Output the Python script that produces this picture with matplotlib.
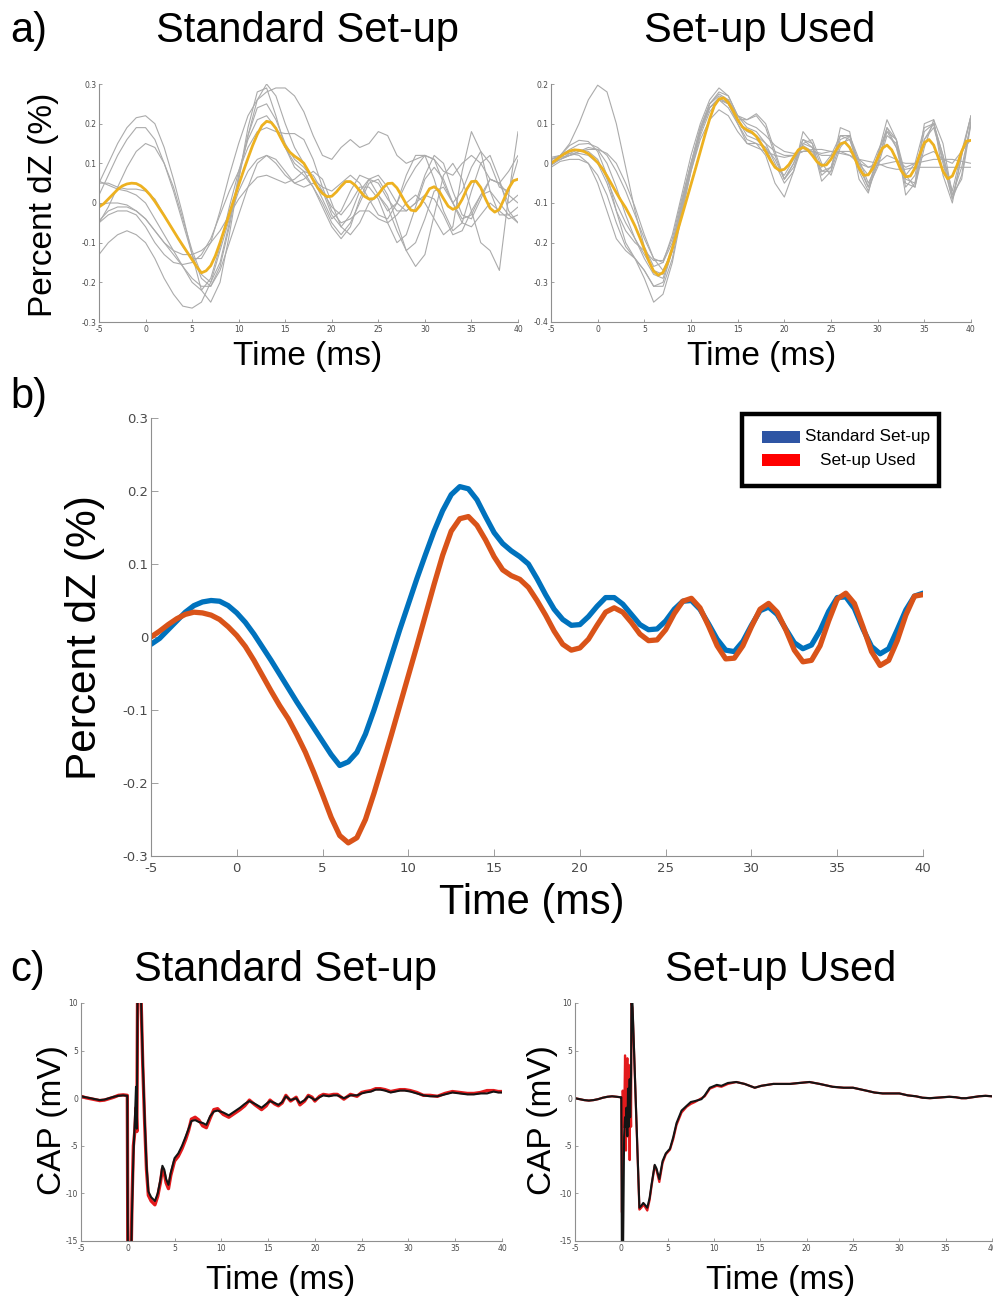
import numpy as np
import matplotlib
matplotlib.use("Agg")
import matplotlib.pyplot as plt
from matplotlib.patches import Rectangle

plt.rcParams["axes.unicode_minus"] = False

W, H = 993, 1299
LABEL_FONT = "Liberation Sans"
TICK_FONT = "DejaVu Sans"

# ---------------- data: percent dZ (panels a and b) ----------------
# mean traces, sampled every 0.5 ms from -5 to 40 ms
t_mean = np.arange(-5, 40.01, 0.5)
dz_standard = [
    -0.010, -0.002, 0.010, 0.022, 0.034, 0.043, 0.048, 0.050, 0.049, 0.043,
    0.033, 0.020, 0.004, -0.014, -0.032, -0.051, -0.070, -0.089, -0.107, -0.125,
    -0.143, -0.161, -0.176, -0.171, -0.158, -0.133, -0.100, -0.064, -0.027, 0.010,
    0.045, 0.080, 0.113, 0.145, 0.173, 0.195, 0.206, 0.203, 0.188, 0.165,
    0.143, 0.128, 0.118, 0.110, 0.100, 0.080, 0.058, 0.038, 0.024, 0.016,
    0.017, 0.028, 0.042, 0.054, 0.054, 0.045, 0.031, 0.017, 0.010, 0.011,
    0.022, 0.038, 0.049, 0.050, 0.038, 0.018, -0.003, -0.018, -0.020, -0.006,
    0.016, 0.036, 0.041, 0.031, 0.011, -0.008, -0.016, -0.011, 0.009, 0.035,
    0.054, 0.055, 0.039, 0.011, -0.013, -0.023, -0.016, 0.010, 0.037, 0.056,
    0.060,
]
dz_used = [
    0.000, 0.008, 0.017, 0.025, 0.031, 0.034, 0.033, 0.030, 0.024, 0.014,
    0.002, -0.013, -0.032, -0.053, -0.074, -0.094, -0.112, -0.134, -0.158, -0.186,
    -0.216, -0.247, -0.272, -0.282, -0.275, -0.250, -0.214, -0.175, -0.135, -0.094,
    -0.053, -0.012, 0.030, 0.072, 0.112, 0.145, 0.162, 0.165, 0.153, 0.133,
    0.110, 0.092, 0.084, 0.079, 0.068, 0.050, 0.030, 0.008, -0.010, -0.018,
    -0.015, -0.003, 0.016, 0.034, 0.040, 0.034, 0.020, 0.004, -0.005, -0.004,
    0.010, 0.032, 0.049, 0.053, 0.040, 0.015, -0.012, -0.030, -0.029, -0.012,
    0.014, 0.038, 0.046, 0.034, 0.010, -0.018, -0.034, -0.032, -0.012, 0.022,
    0.052, 0.060, 0.046, 0.014, -0.020, -0.039, -0.032, -0.005, 0.030, 0.056,
    0.058,
]

# individual recordings, sampled every 1 ms from -5 to 40 ms
t_single = np.arange(-5, 40.01, 1.0)
singles_standard = [
    [0.05, 0.10, 0.15, 0.19, 0.215, 0.22,
     0.20, 0.14, 0.06, -0.03, -0.13, -0.22, -0.25, -0.20, -0.08, 0.06,
     0.19, 0.28, 0.29, 0.22, 0.14, 0.09, 0.07, 0.04, 0.0, -0.05,
     -0.08, -0.05, 0.0, 0.05, 0.06, 0.02, -0.05, -0.12, -0.16, -0.13,
     -0.03, 0.07, 0.10, 0.06, -0.02, -0.10, -0.12, -0.17, 0.02, 0.18],
    [0.02, 0.07, 0.12, 0.16, 0.19, 0.19,
     0.16, 0.10, 0.03, -0.05, -0.13, -0.19, -0.21, -0.16, -0.06, 0.06,
     0.17, 0.26, 0.30, 0.27, 0.20, 0.14, 0.10, 0.06, 0.04, 0.03,
     0.05, 0.07, 0.05, 0.01, -0.03, -0.04, 0.0, 0.07, 0.12, 0.12,
     0.06, -0.02, -0.07, -0.05, 0.03, 0.10, 0.12, 0.06, -0.02, -0.05],
    [-0.05, -0.01, 0.04, 0.09, 0.13, 0.15,
     0.14, 0.10, 0.04, -0.04, -0.12, -0.18, -0.20, -0.15, -0.05, 0.07,
     0.17, 0.24, 0.25, 0.21, 0.15, 0.11, 0.09, 0.06, 0.01, -0.04,
     -0.02, 0.03, 0.07, 0.06, 0.02, -0.02, 0.0, 0.05, 0.09, 0.12,
     0.11, 0.05, 0.0, 0.03, 0.09, 0.13, 0.10, 0.04, 0.03, 0.11],
    [-0.13, -0.10, -0.08, -0.07, -0.08, -0.10,
     -0.14, -0.19, -0.23, -0.26, -0.265, -0.25, -0.20, -0.12, -0.04, 0.03,
     0.08, 0.11, 0.12, 0.10, 0.07, 0.05, 0.06, 0.08, 0.06, 0.0,
     -0.06, -0.08, -0.05, 0.0, 0.02, -0.01, -0.07, -0.12, -0.10, -0.04,
     0.03, 0.04, 0.0, -0.05, -0.06, -0.03, 0.0, -0.02, -0.04, -0.03],
    [0.05, 0.05, 0.04, 0.035, 0.035, 0.03,
     0.01, -0.03, -0.07, -0.11, -0.14, -0.14, -0.10, -0.02, 0.07, 0.15,
     0.22, 0.26, 0.28, 0.29, 0.29, 0.27, 0.23, 0.17, 0.12, 0.11,
     0.14, 0.16, 0.14, 0.15, 0.18, 0.17, 0.12, 0.10, 0.11, 0.12,
     0.11, 0.08, 0.07, 0.10, 0.12, 0.10, 0.06, 0.05, 0.08, 0.12],
    [-0.05, -0.03, -0.02, -0.02, -0.03, -0.06,
     -0.10, -0.13, -0.15, -0.155, -0.15, -0.13, -0.09, -0.03, 0.03, 0.08,
     0.14, 0.18, 0.19, 0.18, 0.175, 0.175, 0.16, 0.11, 0.04, -0.02,
     -0.05, -0.04, -0.02, -0.02, -0.04, -0.05, -0.03, 0.0, 0.02, 0.0,
     -0.04, -0.08, -0.06, 0.08, 0.18, 0.13, 0.03, -0.03, -0.03, -0.01],
    [0.055, 0.045, 0.035, 0.03, 0.02, 0.0,
     -0.04, -0.08, -0.12, -0.16, -0.20, -0.22, -0.19, -0.11, -0.01, 0.08,
     0.16, 0.21, 0.22, 0.19, 0.14, 0.10, 0.08, 0.04, -0.01, -0.06,
     -0.09, -0.06, 0.01, 0.06, 0.07, 0.04, 0.0, -0.02, 0.0, 0.07,
     0.12, 0.10, 0.03, -0.03, -0.04, 0.01, 0.06, 0.05, 0.0, 0.02],
    [-0.045, -0.02, -0.01, -0.01, -0.02, -0.04,
     -0.07, -0.10, -0.12, -0.13, -0.13, -0.12, -0.10, -0.07, -0.03, 0.01,
     0.04, 0.065, 0.07, 0.06, 0.05, 0.06, 0.08, 0.07, 0.03, -0.03,
     -0.06, -0.03, 0.03, 0.06, 0.05, 0.01, -0.02, -0.02, 0.0, 0.02,
     0.01, -0.03, -0.08, -0.07, -0.02, 0.02, 0.03, 0.0, -0.03, -0.05],
    [-0.005, 0.0, 0.0, -0.005, -0.02, -0.04,
     -0.07, -0.10, -0.13, -0.16, -0.19, -0.21, -0.21, -0.17, -0.10, -0.03,
     0.04, 0.10, 0.12, 0.11, 0.08, 0.05, 0.04, 0.05, 0.03, -0.01,
     -0.03, 0.0, 0.04, 0.04, 0.01, -0.05, -0.10, -0.08, -0.01, 0.06,
     0.09, 0.06, 0.0, -0.04, -0.03, 0.02, 0.06, 0.05, 0.02, 0.0],
]
singles_used = [
    [0.01, 0.02, 0.05, 0.10, 0.16, 0.197,
     0.18, 0.10, -0.01, -0.12, -0.21, -0.26, -0.25, -0.18, -0.08, 0.02,
     0.10, 0.16, 0.19, 0.17, 0.12, 0.11, 0.12, 0.09, 0.02, -0.04,
     0.0, 0.06, 0.05, -0.01, 0.02, 0.07, 0.06, 0.0, -0.03, 0.03,
     0.08, 0.04, -0.03, 0.0, 0.09, 0.10, 0.02, -0.07, 0.03, 0.12],
    [-0.01, 0.005, 0.01, 0.01, 0.0, -0.03,
     -0.08, -0.15, -0.21, -0.24, -0.29, -0.35, -0.33, -0.25, -0.13, -0.02,
     0.06, 0.11, 0.135, 0.12, 0.08, 0.05, 0.05, 0.04, 0.01, -0.04,
     -0.01, 0.05, 0.04, -0.02, -0.02, 0.05, 0.06, -0.01, -0.06, 0.02,
     0.09, 0.04, -0.06, -0.03, 0.08, 0.10, 0.0, -0.09, 0.02, 0.12],
    [0.0, 0.02, 0.045, 0.058, 0.055, 0.03,
     -0.03, -0.12, -0.20, -0.24, -0.27, -0.31, -0.30, -0.22, -0.11, -0.01,
     0.08, 0.15, 0.18, 0.17, 0.12, 0.09, 0.08, 0.05, 0.0, -0.05,
     -0.02, 0.05, 0.06, 0.0, -0.03, 0.04, 0.07, 0.01, -0.05, 0.0,
     0.08, 0.06, -0.03, -0.06, 0.04, 0.11, 0.05, -0.08, -0.04, 0.10],
    [0.01, 0.02, 0.035, 0.048, 0.05, 0.04,
     0.02, -0.02, -0.07, -0.13, -0.19, -0.24, -0.25, -0.20, -0.10, 0.0,
     0.09, 0.15, 0.17, 0.16, 0.12, 0.10, 0.09, 0.07, 0.045, 0.03,
     0.025, 0.03, 0.03, 0.025, 0.03, 0.03, 0.02, 0.0, -0.01, -0.005,
     0.0, 0.005, 0.0, 0.0, 0.005, 0.01, 0.01, 0.01, 0.005, 0.0],
    [0.005, 0.01, 0.02, 0.03, 0.035, 0.035,
     0.025, 0.0, -0.05, -0.11, -0.18, -0.24, -0.27, -0.22, -0.12, -0.02,
     0.07, 0.13, 0.16, 0.15, 0.11, 0.08, 0.07, 0.05, 0.03, 0.02,
     0.02, 0.03, 0.035, 0.035, 0.03, 0.025, 0.02, 0.01, 0.005, 0.0,
     -0.01, -0.015, -0.015, -0.01, -0.01, -0.01, -0.01, -0.01, -0.01, -0.01],
    [-0.005, 0.01, 0.025, 0.035, 0.03, 0.01,
     -0.04, -0.10, -0.15, -0.19, -0.23, -0.27, -0.28, -0.21, -0.10, 0.0,
     0.09, 0.15, 0.175, 0.16, 0.11, 0.07, 0.06, 0.04, -0.01, -0.03,
     0.01, 0.045, 0.03, -0.02, -0.01, 0.06, 0.07, 0.0, -0.06, -0.01,
     0.07, 0.05, -0.04, -0.05, 0.06, 0.09, 0.01, -0.09, -0.03, 0.11],
    [0.015, 0.02, 0.025, 0.02, 0.0, -0.05,
     -0.12, -0.19, -0.22, -0.24, -0.27, -0.31, -0.31, -0.24, -0.12, -0.01,
     0.08, 0.14, 0.165, 0.15, 0.10, 0.06, 0.05, 0.02, -0.05, -0.085,
     -0.02, 0.08, 0.05, -0.045, -0.02, 0.09, 0.08, -0.04, -0.075, 0.02,
     0.11, 0.06, -0.08, -0.05, 0.10, 0.11, -0.03, -0.10, 0.02, 0.12],
    [0.0, 0.01, 0.02, 0.025, 0.02, 0.0,
     -0.05, -0.12, -0.17, -0.20, -0.22, -0.245, -0.245, -0.19, -0.09, 0.0,
     0.08, 0.14, 0.16, 0.14, 0.10, 0.05, 0.04, 0.03, 0.02, 0.015,
     0.02, 0.03, 0.03, 0.02, 0.02, 0.03, 0.03, 0.01, -0.01, 0.0,
     0.02, 0.01, -0.01, 0.0, 0.02, 0.03, 0.01, 0.0, 0.03, 0.06],
    [0.01, 0.015, 0.02, 0.03, 0.04, 0.035,
     0.0, -0.06, -0.13, -0.19, -0.24, -0.28, -0.29, -0.22, -0.11, -0.01,
     0.08, 0.14, 0.165, 0.15, 0.11, 0.11, 0.125, 0.10, 0.03, -0.04,
     0.0, 0.06, 0.04, -0.03, -0.01, 0.07, 0.07, -0.02, -0.07, 0.0,
     0.09, 0.06, -0.05, -0.06, 0.06, 0.10, 0.02, -0.08, -0.01, 0.10],
]

# ---------------- data: CAP recordings (panel c) ----------------
t_cap_std = [
    -5, -4.5, -4, -3.5, -3, -2.5, -2, -1.5, -1, -0.5,
    -0.05, 0.02, 0.3, 0.45, 0.6, 0.75, 0.88, 0.97, 1.05, 1.3,
    1.42, 1.6, 1.8, 2.0, 2.2, 2.5, 2.9, 3.2, 3.5, 3.7,
    3.9, 4.1, 4.35, 4.6, 5.0, 5.4, 5.8, 6.2, 6.5, 6.8,
    7.2, 7.6, 8.0, 8.4, 8.8, 9.2, 9.6, 10.2, 10.8, 11.4,
    12.0, 12.5, 13.0, 13.6, 14.3, 14.8, 15.2, 15.7, 16.1, 16.5,
    16.9, 17.4, 18.0, 18.4, 18.9, 19.3, 19.7, 20.0, 20.5, 20.9,
    21.5, 22.0, 22.4, 23.1, 23.8, 24.5, 25.0, 25.4, 26.0, 26.5,
    27.0, 27.5, 28.1, 28.6, 29.1, 29.6, 30.2, 30.9, 31.6, 32.3,
    33.1, 33.9, 34.7, 35.5, 36.3, 37.0, 37.7, 38.4, 39.1, 39.6,
    40.0,
]
cap_std_black = [
    0.2, 0.1, 0.0, -0.1, -0.2, -0.15, 0.0, 0.15, 0.25, 0.3,
    0.25, -20, -20, -12, -6, -2.5, 1.2, -3.2, 12, 12,
    10.5, 4, -2, -7, -9.8, -10.4, -10.8, -10.0, -8.5, -7.1,
    -7.5, -8.5, -9.1, -7.8, -6.3, -5.8, -5.0, -4.0, -3.2, -2.4,
    -2.3, -2.5, -2.6, -2.8, -1.9, -1.4, -1.3, -1.5, -1.8, -1.4,
    -1.0, -0.6, -0.3, -0.6, -1.0, -0.6, -0.3, -0.5, -0.7, -0.4,
    0.2, -0.2, 0.0, -0.5, -0.2, 0.2, 0.0, -0.2, 0.1, 0.3,
    0.2, 0.3, 0.3, 0.0, 0.3, 0.3, 0.5, 0.6, 0.7, 0.9,
    0.9, 0.8, 0.6, 0.7, 0.8, 0.8, 0.7, 0.5, 0.3, 0.2,
    0.2, 0.4, 0.6, 0.5, 0.4, 0.4, 0.5, 0.5, 0.7, 0.6,
    0.6,
]
cap_std_red = [
    0.2, 0.05, -0.05, -0.15, -0.25, -0.2, -0.05, 0.1, 0.3, 0.35,
    0.3, -20, -20, -11, -5, -3.5, -1, -3.5, 12, 12,
    10.5, 3.5, -2.5, -7.5, -10.2, -10.8, -11.2, -10.3, -8.8, -7.4,
    -7.9, -8.9, -9.5, -8.1, -6.6, -6.1, -5.3, -4.3, -3.4, -2.2,
    -2.0, -2.3, -2.9, -3.1, -2.1, -1.2, -1.1, -1.7, -2.0, -1.6,
    -1.2, -0.8, -0.2, -0.7, -1.2, -0.8, -0.2, -0.6, -0.8, -0.5,
    0.3, -0.3, 0.1, -0.7, -0.3, 0.3, 0.1, -0.3, 0.2, 0.4,
    0.3, 0.4, 0.4, -0.1, 0.4, 0.2, 0.6, 0.7, 0.8, 1.0,
    1.0, 0.9, 0.7, 0.8, 0.9, 0.9, 0.8, 0.6, 0.3, 0.3,
    0.2, 0.5, 0.7, 0.6, 0.5, 0.5, 0.6, 0.8, 0.8, 0.7,
    0.7,
]

t_cap_used = [
    -5, -4.5, -4, -3.5, -3, -2.5, -2, -1.5, -1, -0.5,
    -0.1, 0.0, 0.07, 0.15, 0.3, 0.4, 0.5, 0.55, 0.65, 0.72,
    0.8, 0.9, 0.95, 1.05, 1.1, 1.2, 1.35, 1.6, 1.95, 2.15,
    2.37, 2.55, 2.8, 3.05, 3.27, 3.6, 3.8, 4.1, 4.45, 4.8,
    5.25, 5.6, 5.96, 6.5, 7.05, 7.5, 7.95, 8.65, 9.0, 9.55,
    10.3, 10.8, 11.5, 12.4, 13.3, 14.4, 15.1, 16.4, 17.3, 18.2,
    19.2, 20.3, 21.4, 22.8, 24.0, 25.0, 26.4, 27.3, 28.2, 29.1,
    30.0, 30.9, 31.8, 32.5, 33.3, 34.0, 34.7, 35.4, 36.1, 36.7,
    37.2, 37.9, 38.6, 39.3, 40.0,
]
cap_used_black = [
    0.0, -0.1, -0.2, -0.25, -0.2, -0.1, 0.05, 0.15, 0.2, 0.15,
    0.1, 0.1, -20, -20, -4, -2, -3, -1, -4, 1,
    -3, 2, -2, 2.5, 12, 10, 5.7, -1.5, -11.5, -11.3,
    -11.0, -11.2, -11.5, -10.5, -9.0, -7.0, -7.4, -8.5, -6.6, -5.8,
    -5.3, -4.1, -2.6, -1.3, -0.8, -0.4, -0.3, -0.1, 0.3, 1.1,
    1.4, 1.3, 1.6, 1.7, 1.5, 1.1, 1.3, 1.5, 1.5, 1.5,
    1.6, 1.7, 1.5, 1.2, 1.1, 1.1, 0.8, 0.6, 0.5, 0.5,
    0.5, 0.3, 0.2, 0.05, 0.0, 0.05, 0.1, 0.15, 0.1, 0.0,
    0.0, 0.1, 0.2, 0.25, 0.2,
]
cap_used_red = [
    0.0, -0.1, -0.2, -0.25, -0.2, -0.1, 0.05, 0.15, 0.2, 0.15,
    0.1, 0.1, -12, 0.8, -3, 4.5, -5.5, 2, 4.2, -4,
    3.5, -6.5, 2.7, -3, 10, 9.5, 5.5, -1.7, -11.7, -11.5,
    -11.2, -11.4, -11.8, -10.7, -9.2, -7.1, -7.6, -8.8, -6.8, -5.9,
    -5.4, -4.3, -2.8, -1.5, -0.9, -0.6, -0.4, 0.0, 0.2, 1.0,
    1.3, 1.2, 1.5, 1.7, 1.5, 1.1, 1.3, 1.5, 1.5, 1.5,
    1.6, 1.7, 1.5, 1.2, 1.1, 1.1, 0.8, 0.6, 0.5, 0.5,
    0.5, 0.3, 0.2, 0.05, 0.0, 0.05, 0.1, 0.15, 0.1, 0.0,
    0.0, 0.1, 0.2, 0.25, 0.2,
]

time_ticks = [-5, 0, 5, 10, 15, 20, 25, 30, 35, 40]
dz_ticks_std = [-0.3, -0.2, -0.1, 0, 0.1, 0.2, 0.3]
dz_ticks_used = [-0.4, -0.3, -0.2, -0.1, 0, 0.1, 0.2]
cap_ticks = [-15, -10, -5, 0, 5, 10]

GREY = "#ababab"
GOLD = "#EDB120"
BLUE = "#0072BD"
ORANGE = "#D95319"


def rect(left, top, right, bottom):
    return [left / W, 1 - bottom / H, (right - left) / W, (bottom - top) / H]


def fxy(x, y):
    return x / W, 1 - y / H


def style(ax, xticks, yticks, fs, ticklen, xpad=2):
    for side in ["top", "right"]:
        ax.spines[side].set_visible(False)
    for side in ["left", "bottom"]:
        ax.spines[side].set_color("#8f8f8f")
        ax.spines[side].set_linewidth(0.8)
    ax.set_xticks(xticks)
    ax.set_xticklabels([f"{v:g}" for v in xticks])
    ax.set_yticks(yticks)
    ax.set_yticklabels([f"{round(v, 2):g}" for v in yticks])
    ax.tick_params(direction="in", length=ticklen, width=0.6, colors="#8f8f8f",
                   labelsize=fs, labelcolor="#4a4a4a", pad=2)
    ax.tick_params(axis="x", pad=xpad)
    for lab in ax.get_xticklabels() + ax.get_yticklabels():
        lab.set_family(TICK_FONT)


fig = plt.figure(figsize=(W / 100, H / 100), dpi=100)
line_kw = dict(solid_joinstyle="round", solid_capstyle="round")

# ---------------- panel a ----------------
ax_a1 = fig.add_axes(rect(99, 84, 518, 322))
for tr in singles_standard:
    ax_a1.plot(t_single, tr, color=GREY, lw=0.8, **line_kw)
ax_a1.plot(t_mean, dz_standard, color=GOLD, lw=2.0, **line_kw)
ax_a1.set_xlim(-5, 40)
ax_a1.set_ylim(-0.3, 0.3)
style(ax_a1, time_ticks, dz_ticks_std, 5.5, 2)

ax_a2 = fig.add_axes(rect(551, 84, 971, 322))
for tr in singles_used:
    ax_a2.plot(t_single, tr, color=GREY, lw=0.8, **line_kw)
ax_a2.plot(t_mean, dz_used, color=GOLD, lw=2.0, **line_kw)
ax_a2.set_xlim(-5, 40)
ax_a2.set_ylim(-0.4, 0.2)
style(ax_a2, time_ticks, dz_ticks_used, 5.5, 2)

# ---------------- panel b ----------------
ax_b = fig.add_axes(rect(151, 418, 923, 856))
ax_b.plot(t_mean, dz_standard, color=BLUE, lw=3.8, **line_kw)
ax_b.plot(t_mean, dz_used, color=ORANGE, lw=3.8, **line_kw)
ax_b.set_xlim(-5, 40)
ax_b.set_ylim(-0.3, 0.3)
style(ax_b, time_ticks, dz_ticks_std, 9.5, 5, xpad=4)

# legend box drawn in figure pixels
fig.add_artist(Rectangle(fxy(742, 486), 197 / W, 72 / H, transform=fig.transFigure,
                         facecolor="white", edgecolor="black", lw=3.2))
fig.add_artist(Rectangle(fxy(762, 443), 38 / W, 12 / H, transform=fig.transFigure,
                         facecolor="#2E55A4", edgecolor="none"))
fig.add_artist(Rectangle(fxy(762, 466), 38 / W, 12 / H, transform=fig.transFigure,
                         facecolor="#FF0000", edgecolor="none"))
fig.text(*fxy(805, 437), "Standard Set-up", fontsize=12.3, family=LABEL_FONT,
         ha="left", va="center")
fig.text(*fxy(820, 460), "Set-up Used", fontsize=12.3, family=LABEL_FONT,
         ha="left", va="center")

# ---------------- panel c ----------------
ax_c1 = fig.add_axes(rect(81, 1003, 502, 1241))
ax_c1.plot(t_cap_std, cap_std_red, color="#e31a1c", lw=2.4)
ax_c1.plot(t_cap_std, cap_std_black, color="#141414", lw=1.5)
ax_c1.set_xlim(-5, 40)
ax_c1.set_ylim(-15, 10)
style(ax_c1, time_ticks, cap_ticks, 5.5, 2)

ax_c2 = fig.add_axes(rect(575, 1003, 992, 1241))
ax_c2.plot(t_cap_used, cap_used_red, color="#e31a1c", lw=1.6)
ax_c2.plot(t_cap_used, cap_used_black, color="#141414", lw=1.5)
ax_c2.set_xlim(-5, 40)
ax_c2.set_ylim(-15, 10)
style(ax_c2, time_ticks, cap_ticks, 5.5, 2)

# ---------------- texts ----------------
big = dict(family=LABEL_FONT, ha="center", va="center")
fig.text(*fxy(10, 31), "a)", fontsize=30, family=LABEL_FONT, ha="left", va="center")
fig.text(*fxy(307, 31), "Standard Set-up", fontsize=30, **big)
fig.text(*fxy(760, 31), "Set-up Used", fontsize=30, **big)
fig.text(*fxy(308, 356), "Time (ms)", fontsize=24, **big)
fig.text(*fxy(762, 356), "Time (ms)", fontsize=24, **big)
fig.text(*fxy(44, 205), "Percent dZ (%)", fontsize=24, rotation=90, **big)

fig.text(*fxy(10, 397), "b)", fontsize=30, family=LABEL_FONT, ha="left", va="center")
fig.text(*fxy(85, 638), "Percent dZ (%)", fontsize=30.5, rotation=90, **big)
fig.text(*fxy(532, 903), "Time (ms)", fontsize=30, **big)

fig.text(*fxy(10, 970), "c)", fontsize=30, family=LABEL_FONT, ha="left", va="center")
fig.text(*fxy(285, 970), "Standard Set-up", fontsize=30, **big)
fig.text(*fxy(781, 970), "Set-up Used", fontsize=30, **big)
fig.text(*fxy(52, 1120), "CAP (mV)", fontsize=24, rotation=90, **big)
fig.text(*fxy(543, 1120), "CAP (mV)", fontsize=24, rotation=90, **big)
fig.text(*fxy(281, 1281), "Time (ms)", fontsize=24, **big)
fig.text(*fxy(781, 1281), "Time (ms)", fontsize=24, **big)

fig.savefig("out.png", dpi=100, facecolor="white")
